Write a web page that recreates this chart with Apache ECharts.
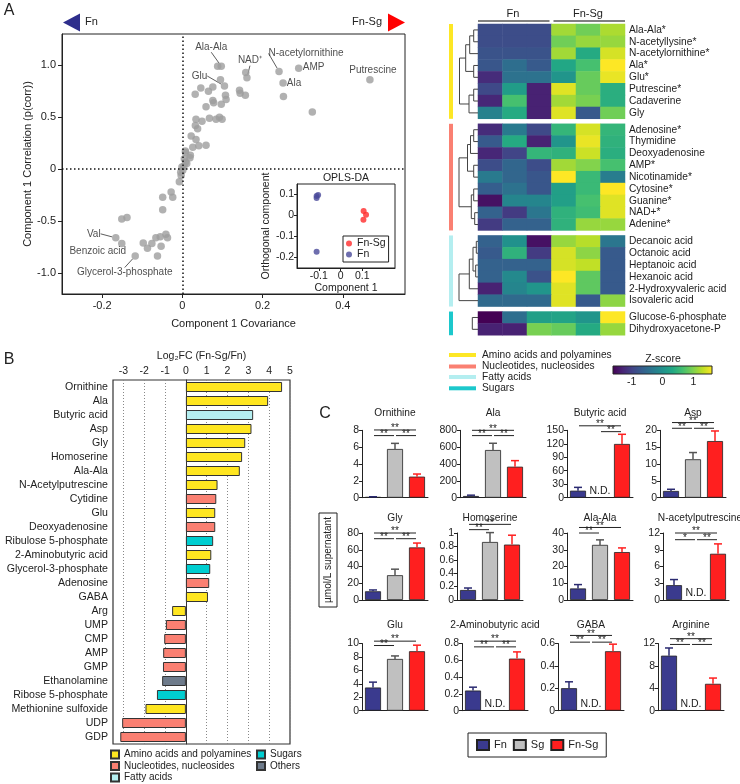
<!DOCTYPE html>
<html><head><meta charset="utf-8">
<script src="https://cdn.jsdelivr.net/npm/echarts@6/dist/echarts.min.js"></script>
<style>html,body{margin:0;padding:0;background:#fff}#c{width:740px;height:784px}</style>
</head><body><div id="c"></div>
<script>
// ================= DATA =================
// Panel A - S-plot points [covariance, correlation]
const scatterPoints = [
 [0.088,0.99],[0.095,0.86],[0.158,0.93],[0.252,0.70],[0.324,0.55],[0.032,0.72],[0.046,0.78],[0.065,0.75],
 [0.076,0.79],[0.076,0.66],[0.078,0.64],[0.097,0.625],[0.1075,0.71],[0.109,0.67],[0.059,0.60],[0.1425,0.76],
 [0.144,0.73],[0.157,0.71],[0.034,0.48],[0.049,0.46],[0.0675,0.49],[0.084,0.48],[0.0925,0.50],[0.099,0.48],
 [0.0325,0.42],[0.038,0.39],[0.022,0.32],[0.034,0.285],[0.059,0.23],[0.041,0.225],[0.026,0.21],[0.02,0.135],
 [0.0075,0.175],[0.005,0.10],[0.011,0.055],[-0.001,0.02],[0.001,-0.01],[-0.003,-0.06],[-0.0075,-0.12],
 [0.004,0.03],[0.008,0.07],[-0.004,-0.03],[0.008,0.16],[0.019,0.11],
 [-0.028,-0.22],[-0.024,-0.27],[-0.049,-0.27],[-0.049,-0.39],[-0.151,-0.48],[-0.138,-0.465],[-0.0975,-0.71],
 [-0.087,-0.76],[-0.076,-0.715],[-0.066,-0.66],[-0.053,-0.74],[-0.055,-0.65],[-0.041,-0.625],[-0.037,-0.66],[-0.062,-0.835]
];
const labeledNames = ['Ala-Ala','Glu','NAD⁺','N-acetylornithine','AMP','Ala','Putrescine','Val','Benzoic acid','Glycerol-3-phosphate'];
const labeledX = [0.097,0.105,0.161,0.241,0.29,0.251,0.4675,-0.166,-0.151,-0.1175];
const labeledY = [0.99,0.80,0.88,0.94,0.97,0.83,0.86,-0.66,-0.715,-0.835];
const scatterXTicks = [-0.2,0,0.2,0.4];
const scatterYTicks = [-1,-0.5,0,0.5,1];
// inset OPLS-DA scores
const insetFnSg = [[0.106,0.022],[0.117,0.003],[0.105,-0.02]];
const insetFn = [[-0.11,0.093],[-0.103,0.098],[-0.11,0.083],[-0.11,-0.173]];
const insetXTicks = [-0.1,0,0.1];
const insetYTicks = [-0.2,-0.1,0,0.1];

// Panel A - heatmap (z-scores; columns Fn x3, Fn-Sg x3)
const heatCols = ['Fn1','Fn2','Fn3','FnSg1','FnSg2','FnSg3'];
const heatRowsAmino = ['Ala-Ala*','N-acetyllysine*','N-acetylornithine*','Ala*','Glu*','Putrescine*','Cadaverine','Gly'];
const heatValsAmino = [
 [-0.85,-0.85,-0.85,1.15,0.9,1.2],
 [-0.85,-0.85,-0.85,0.9,1.1,1.1],
 [-0.78,-0.78,-0.78,1.15,0.35,1.4],
 [-0.75,-0.45,-0.7,0.3,0.65,1.6],
 [-1.2,-0.4,-0.4,0.05,0.85,1.5],
 [-0.9,0.15,-1.3,1.45,0.85,0.4],
 [-1.25,0.65,-1.3,1.15,0.95,0.4],
 [-0.2,0.35,-1.3,1.45,-0.7,0.9]
];
const heatRowsNuc = ['Adenosine*','Thymidine','Deoxyadenosine','AMP*','Nicotinamide*','Cytosine*','Guanine*','NAD+*','Adenine*'];
const heatValsNuc = [
 [-1.2,-0.3,-0.9,0.5,1.4,0.5],
 [-0.7,0.35,-1.3,0.05,1.5,0.45],
 [-1.25,-0.95,0.5,0.45,1.35,0.4],
 [-0.85,-0.55,-0.85,1.15,1.0,0.65],
 [-0.3,-0.55,-0.75,1.6,0.55,-0.25],
 [-0.65,-0.4,-0.75,0.2,0.55,1.6],
 [-1.45,-0.15,-0.15,0.2,0.65,1.45],
 [-0.6,-1.05,-0.35,0.45,0.6,1.45],
 [-1.05,-0.6,-0.6,0.45,1.1,1.1]
];
const heatRowsFat = ['Decanoic acid','Octanoic acid','Heptanoic acid','Hexanoic acid','2-Hydroxyvaleric acid','Isovaleric acid'];
const heatValsFat = [
 [-0.6,0.0,-1.45,1.1,1.25,-0.35],
 [-0.7,0.45,-1.05,1.4,1.05,-0.7],
 [-0.6,-0.6,-0.6,1.4,1.3,-0.7],
 [-0.6,-0.1,-0.8,1.6,0.8,-0.7],
 [-1.3,-0.15,0.05,1.45,0.8,-0.7],
 [-0.5,-0.5,-0.5,1.45,-0.7,1.05]
];
const heatRowsSug = ['Glucose-6-phosphate','Dihydroxyacetone-P'];
const heatValsSug = [
 [-1.6,-0.45,0.2,0.25,0.05,1.6],
 [-1.3,-1.3,0.95,0.85,0.35,1.1]
];
// dendrogram merges [nodeA, nodeB, height]
const dendroAmino = [[0,1,4.3],[8,2,8.3],[3,4,4.3],[9,10,12.3],[5,6,4.3],[12,7,9],[11,13,18.5]];
const dendroNuc = [[0,1,4.3],[9,2,7.5],[3,4,4.3],[10,11,10.5],[5,6,4.3],[7,8,3.3],[13,14,6.7],[12,15,19]];
const dendroFat = [[0,1,1.7],[2,3,2.3],[6,7,5],[8,4,8.7],[9,5,19]];
const dendroSug = [[0,1,5.7]];
const zTicks = [-1,0,1];

// Panel B
const bCategories = ['Ornithine','Ala','Butyric acid','Asp','Gly','Homoserine','Ala-Ala','N-Acetylputrescine','Cytidine','Glu',
 'Deoxyadenosine','Ribulose 5-phosphate','2-Aminobutyric acid','Glycerol-3-phosphate','Adenosine','GABA','Arg','UMP','CMP','AMP',
 'GMP','Ethanolamine','Ribose 5-phosphate','Methionine sulfoxide','UDP','GDP'];
const bValues = [4.62,3.95,3.23,3.15,2.85,2.70,2.59,1.52,1.46,1.41,1.41,1.31,1.22,1.17,1.12,1.06,
 -0.66,-0.96,-1.04,-1.09,-1.10,-1.14,-1.39,-1.94,-3.06,-3.15];
const bClasses = ['A','A','F','A','A','A','A','A','N','A','N','S','A','S','N','A','A','N','N','N','N','O','S','A','N','N'];
const bClassNames = {A:'Amino acids and polyamines', N:'Nucleotides, nucleosides', F:'Fatty acids', S:'Sugars', O:'Others'};
const bTicks = [-3,-2,-1,0,1,2,3,4,5];

// Panel C (µmol/L): [Fn, Sg, Fn-Sg]; null = N.D.
const cTitles = ['Ornithine','Ala','Butyric acid','Asp','Gly','Homoserine','Ala-Ala','N-acetylputrescine','Glu','2-Aminobutyric acid','GABA','Arginine'];
const cMeans = [[0.08,5.78,2.5],[20,566,368],[15.6,null,119.6],[2.0,11.4,16.8],[10.4,29.6,62.8],[0.149,0.866,0.827],
 [6.9,32.9,28.6],[2.66,null,8.28],[3.45,7.7,8.85],[0.24,null,0.62],[0.201,null,0.531],[9.83,null,4.8]];
const cErrs = [[0.03,0.67,0.31],[10,80,72],[7.4,null,21.5],[0.5,2.0,3.0],[1.6,7.2,5.2],[0.03,0.14,0.14],
 [2.3,3.0,2.5],[1.0,null,1.77],[0.8,0.45,0.9],[0.04,null,0.08],[0.057,null,0.063],[1.37,null,1.03]];
const cMax = [8,800,150,20,80,1,40,12,10,0.8,0.6,12];
const cInterval = [2,200,30,5,20,0.2,10,3,2,0.2,0.2,4];
// significance brackets [fromGroup, y, toGroup, stars]
const cSig = [
 [[0,8.04,2,2],[0,7.37,1,2],[1,7.37,2,2]],
 [[0,800,2,2],[0,737,1,2],[1,737,2,2]],
 [[0,160,2,2],[1,147,2,2]],
 [[0,22.3,2,2],[0,20.6,1,2],[1,20.6,2,2]],
 [[0,80,2,2],[0,73.2,1,2],[1,73.2,2,2]],
 [[0,1.129,2,2],[0,1.05,1,2]],
 [[0,43.3,2,2],[0,40,1,2]],
 [[0,12,2,2],[0,10.8,1,1],[1,10.8,2,2]],
 [[0,10.35,2,2],[0,9.7,1,2]],
 [[0,0.828,2,2],[0,0.76,1,2],[1,0.76,2,2]],
 [[0,0.672,2,2],[0,0.612,1,2],[1,0.612,2,2]],
 [[0,12.86,2,2],[0,11.83,1,2],[1,11.83,2,2]]
];
const cGroups = ['Fn','Sg','Fn-Sg'];

// ================= STYLE / LAYOUT =================
const FONT = "'Liberation Sans', Arial, Helvetica, sans-serif";
const INK = '#222';
const viridis = ['#440154','#482475','#414487','#355f8d','#2a788e','#21918c','#22a884','#44bf70','#7ad151','#bddf26','#fde725'];
const classColors = {A:'#ffe620', N:'#fa8072', F:'#b4eef0', S:'#00ced1', O:'#6e7b8b'};
const groupBarColors = ['#fde725','#fa8072','#b4eef0','#1cc8cc'];
const cBarColors = ['#3a3a8e','#c0c0c0','#ff1f1f'];
const cErrColors = ['#2a2a70','#555555','#ff1f1f'];
const labelPlacement = {'Ala-Ala':[-10,-19,true],'Glu':[-25,-10,true],'NAD⁺':[3,-17,true],'N-acetylornithine':[27,-18,true],
 'AMP':[15,-1,false],'Ala':[11,0,false],'Putrescine':[3,-10,false],'Val':[-22,-4,true],'Benzoic acid':[-24,8,false],'Glycerol-3-phosphate':[-10.5,16.5,true]};

const grids=[], xAxes=[], yAxes=[], series=[], graphics=[], legends=[];
function addGrid(g){grids.push(g);return grids.length-1;}
function addX(a){xAxes.push(a);return xAxes.length-1;}
function addY(a){yAxes.push(a);return yAxes.length-1;}

// ---------- Panel A: S-plot ----------
const gA = addGrid({left:62, top:34, width:343, height:260, show:true, borderColor:INK, borderWidth:1, backgroundColor:'transparent'});
const xA = addX({gridIndex:gA, type:'value', min:-0.3, max:0.555,
  axisLine:{onZero:false, lineStyle:{color:INK}}, axisTick:{length:4, customValues:scatterXTicks, lineStyle:{color:INK}},
  axisLabel:{customValues:scatterXTicks, formatter:v=>v===0?'0':v.toFixed(1), fontSize:11, color:INK, margin:6},
  splitLine:{show:false}, name:'Component 1 Covariance', nameLocation:'middle', nameGap:24, nameTextStyle:{fontSize:11, color:INK}});
const yA = addY({gridIndex:gA, type:'value', min:-1.2, max:1.3,
  axisLine:{onZero:false, lineStyle:{color:INK}}, axisTick:{length:4, customValues:scatterYTicks, lineStyle:{color:INK}},
  axisLabel:{customValues:scatterYTicks, formatter:v=>v===0?'0':v.toFixed(1), fontSize:11, color:INK, margin:6},
  splitLine:{show:false}, name:'Component 1 Correlation (p(corr))', nameLocation:'middle', nameGap:26, nameTextStyle:{fontSize:11, color:INK}});
series.push({type:'scatter', xAxisIndex:xA, yAxisIndex:yA, symbolSize:7.5, itemStyle:{color:'#9e9e9e'}, silent:true,
  data:scatterPoints,
  markLine:{silent:true, symbol:'none', label:{show:false}, lineStyle:{color:'#111', type:[1.5,2.5], width:1.5},
    data:[{xAxis:0},{yAxis:0}]}});
series.push({type:'scatter', xAxisIndex:xA, yAxisIndex:yA, symbolSize:7.5, itemStyle:{color:'#9e9e9e'}, silent:true,
  data: labeledNames.map((n,i)=>({name:n, value:[labeledX[i], labeledY[i]], labelLine:{show:labelPlacement[n][2]}})),
  label:{show:true, position:'inside', formatter:'{b}', fontSize:10, color:INK, fontFamily:FONT},
  labelLine:{show:true, lineStyle:{color:'#333', width:0.8}},
  labelLayout:p=>{const o=labelPlacement[labeledNames[p.dataIndex]];return {dx:o[0], dy:o[1]};}});

// inset
const gI = addGrid({left:297, top:184, width:98, height:84, show:true, borderColor:INK, borderWidth:1, backgroundColor:'#fff'});
const xI = addX({gridIndex:gI, type:'value', min:-0.2, max:0.25,
  axisLine:{onZero:false, lineStyle:{color:INK}}, axisTick:{length:3, customValues:insetXTicks, lineStyle:{color:INK}},
  axisLabel:{customValues:insetXTicks, formatter:v=>v===0?'0':v.toFixed(1), fontSize:10.5, color:INK, margin:3},
  splitLine:{show:false}, name:'Component 1', nameLocation:'middle', nameGap:10, nameTextStyle:{fontSize:10.5, color:INK}});
const yI = addY({gridIndex:gI, type:'value', min:-0.25, max:0.15,
  axisLine:{onZero:false, lineStyle:{color:INK}}, axisTick:{length:3, customValues:insetYTicks, lineStyle:{color:INK}},
  axisLabel:{customValues:insetYTicks, formatter:v=>v===0?'0':v.toFixed(1), fontSize:10.5, color:INK, margin:3},
  splitLine:{show:false}, name:'Orthogonal component', nameLocation:'middle', nameGap:19, nameTextStyle:{fontSize:10.5, color:INK}});
series.push({type:'scatter', name:'OPLS Fn-Sg', xAxisIndex:xI, yAxisIndex:yI, symbolSize:6, itemStyle:{color:'#ff2a2a'}, data:insetFnSg, silent:true});
series.push({type:'scatter', name:'OPLS Fn', xAxisIndex:xI, yAxisIndex:yI, symbolSize:6, itemStyle:{color:'#4a4a9a'}, data:insetFn, silent:true});
legends.push({left:343, top:236, orient:'vertical', data:['OPLS Fn-Sg','OPLS Fn'], formatter:n=>n.replace('OPLS ',''),
  icon:'circle', itemWidth:6, itemHeight:6, itemGap:0, padding:[2,3], borderColor:INK, borderWidth:1, backgroundColor:'#fff',
  selectedMode:false, textStyle:{fontSize:10.5, lineHeight:11, color:INK, fontFamily:FONT}});

// ---------- Panel A: heatmap ----------
function dendroLines(n, merges){
  const pos=[]; for(let i=0;i<n;i++) pos.push([0,i]);
  const out=[];
  merges.forEach(([a,b,h])=>{const pa=pos[a], pb=pos[b];
    out.push({coords:[[pa[0],pa[1]],[h,pa[1]],[h,pb[1]],[pb[0],pb[1]]]});
    pos.push([h,(pa[1]+pb[1])/2]);});
  return out;
}
const heatGroups = [
  {rows:heatRowsAmino, vals:heatValsAmino, dendro:dendroAmino},
  {rows:heatRowsNuc, vals:heatValsNuc, dendro:dendroNuc},
  {rows:heatRowsFat, vals:heatValsFat, dendro:dendroFat},
  {rows:heatRowsSug, vals:heatValsSug, dendro:dendroSug}
];
const HM = {left:478, width:147, rowH:11.85, gap:5, top:24, dLeft:459, dWidth:19, barX:449, barW:4};
const heatSeriesIdx = [];
let yCur = HM.top;
heatGroups.forEach((g,gi)=>{
  const h = g.rows.length*HM.rowH;
  const gi1 = addGrid({left:HM.left, top:yCur, width:HM.width, height:h});
  const hx = addX({gridIndex:gi1, type:'category', data:heatCols, show:false});
  const hy = addY({gridIndex:gi1, type:'category', data:g.rows, inverse:true, position:'right',
    axisLine:{show:false}, axisTick:{show:false}, axisLabel:{interval:0, fontSize:10.2, margin:4, color:INK}});
  const data=[]; g.vals.forEach((row,r)=>row.forEach((v,c)=>data.push([c,r,v])));
  heatSeriesIdx.push(series.length);
  series.push({type:'heatmap', xAxisIndex:hx, yAxisIndex:hy, data:data, silent:true, itemStyle:{borderWidth:0}});
  const gd = addGrid({left:HM.dLeft, top:yCur, width:HM.dWidth, height:h});
  const dx = addX({gridIndex:gd, type:'value', min:0, max:19, inverse:true, show:false});
  const dy = addY({gridIndex:gd, type:'value', min:-0.5, max:g.rows.length-0.5, inverse:true, show:false});
  series.push({type:'lines', coordinateSystem:'cartesian2d', polyline:true, xAxisIndex:dx, yAxisIndex:dy, silent:true,
    lineStyle:{color:'#444', width:1, opacity:1}, data:dendroLines(g.rows.length, g.dendro)});
  graphics.push({type:'rect', shape:{x:HM.barX, y:yCur, width:HM.barW, height:h}, style:{fill:groupBarColors[gi]}});
  yCur += h + HM.gap;
});
// column headers
graphics.push({type:'text', x:513, y:14, style:{text:'Fn', align:'center', verticalAlign:'middle', font:'11px '+FONT, fill:INK}});
graphics.push({type:'text', x:588, y:14, style:{text:'Fn-Sg', align:'center', verticalAlign:'middle', font:'11px '+FONT, fill:INK}});
graphics.push({type:'line', shape:{x1:478, y1:21, x2:549.5, y2:21}, style:{stroke:'#808080', lineWidth:2}});
graphics.push({type:'line', shape:{x1:553.5, y1:21, x2:625, y2:21}, style:{stroke:'#808080', lineWidth:2}});
// class legend
const hmLegend = [['Amino acids and polyamines',355],['Nucleotides, nucleosides',366.5],['Fatty acids',377],['Sugars',388.3]];
hmLegend.forEach(([t,y],i)=>{
  graphics.push({type:'rect', shape:{x:449, y:y-2, width:27, height:4}, style:{fill:groupBarColors[i]}});
  graphics.push({type:'text', x:482, y:y, style:{text:t, align:'left', verticalAlign:'middle', font:'10.2px '+FONT, fill:INK}});
});
// colour bar
graphics.push({type:'text', x:663, y:359, style:{text:'Z-score', align:'center', verticalAlign:'middle', font:'10.5px '+FONT, fill:INK}});
graphics.push({type:'rect', shape:{x:613, y:366, width:99, height:8},
  style:{stroke:INK, lineWidth:1, fill:{type:'linear', x:0, y:0, x2:1, y2:0, colorStops:viridis.map((c,i)=>({offset:i/(viridis.length-1), color:c}))}}});
const gCB = addGrid({left:613, top:366, width:99, height:8});
addX({gridIndex:gCB, type:'value', min:-1.6, max:1.6, axisLine:{show:false}, axisTick:{show:false}, splitLine:{show:false},
  axisLabel:{customValues:zTicks, fontSize:10.5, color:INK, margin:3}});
addY({gridIndex:gCB, type:'value', show:false, min:0, max:1});

// ---------- Panel B ----------
const gB = addGrid({left:113, top:380, width:177, height:364, show:true, borderColor:'#333', borderWidth:1.2, backgroundColor:'transparent'});
const xB = addX({gridIndex:gB, type:'value', position:'top', min:-3.5, max:5,
  axisLine:{onZero:false, lineStyle:{color:'#333'}}, axisTick:{length:3, customValues:bTicks, lineStyle:{color:INK}},
  axisLabel:{customValues:bTicks, fontSize:10.5, color:INK, margin:3},
  splitLine:{show:true, lineStyle:{type:[1,2], color:'#888'}},
  name:'Log₂FC (Fn-Sg/Fn)', nameLocation:'middle', nameGap:18, nameTextStyle:{fontSize:10.5, color:INK}});
const yB = addY({gridIndex:gB, type:'category', data:bCategories, inverse:true,
  axisLine:{lineStyle:{color:'#333'}}, axisTick:{length:3, alignWithLabel:true, interval:0, lineStyle:{color:INK}},
  axisLabel:{interval:0, fontSize:10.6, color:INK, margin:5}});
['A','N','F','S','O'].forEach(k=>{
  series.push({type:'bar', name:bClassNames[k], xAxisIndex:xB, yAxisIndex:yB, stack:'B', barWidth:10, silent:true,
    itemStyle:{color:classColors[k], borderColor:'#333', borderWidth:1},
    data:bValues.map((v,i)=>bClasses[i]===k?v:'-')});
});
legends.push({left:110, top:749, orient:'vertical', data:[bClassNames.A,bClassNames.N,bClassNames.F], icon:'rect',
  itemWidth:8, itemHeight:8, itemGap:0.5, padding:0, selectedMode:false, textStyle:{fontSize:10, lineHeight:11, color:INK, fontFamily:FONT}});
legends.push({left:256, top:749, orient:'vertical', data:[bClassNames.S,bClassNames.O], icon:'rect',
  itemWidth:8, itemHeight:8, itemGap:0.5, padding:0, selectedMode:false, textStyle:{fontSize:10, lineHeight:11, color:INK, fontFamily:FONT}});

// ---------- Panel C ----------
const cLay = {tops:[430.3,533,643.5], bottoms:[497.7,600,710.7],
  lefts:[[362,460,567,660],[362,457,567,663],[362,462,558,658]], width:66, titleY:[413.3,518.3,625]};
cTitles.forEach((t,k)=>{
  const r=Math.floor(k/4), c=k%4, left=cLay.lefts[r][c];
  const g = addGrid({left:left, top:cLay.tops[r], width:cLay.width, height:cLay.bottoms[r]-cLay.tops[r]});
  const xi = addX({gridIndex:g, type:'category', data:cGroups, axisLabel:{show:false}, axisTick:{show:false},
    axisLine:{lineStyle:{color:INK}}});
  const yi = addY({gridIndex:g, type:'value', min:0, max:cMax[k], interval:cInterval[k],
    axisLine:{show:true, lineStyle:{color:INK}}, axisTick:{show:true, length:3, lineStyle:{color:INK}},
    axisLabel:{fontSize:10.5, color:INK, margin:3}, splitLine:{show:false}});
  cGroups.forEach((gn,j)=>{
    series.push({type:'bar', name:gn, xAxisIndex:xi, yAxisIndex:yi, stack:'C'+k, barWidth:16, silent:true,
      itemStyle:{color:cBarColors[j], borderColor:'#222', borderWidth:0.8},
      data:cGroups.map((_,m)=> (m===j && cMeans[k][m]!=null) ? cMeans[k][m] : '-')});
  });
  // error bars + N.D.
  const errData = cMeans[k].map((m,j)=> m==null ? [j,0,0,1] : [j,m,cErrs[k][j],0]);
  series.push({type:'custom', xAxisIndex:xi, yAxisIndex:yi, silent:true, z:5, clip:false,
    dimensions:['g','m','e','nd'], encode:{x:0,y:1}, data:errData,
    renderItem:(p,api)=>{
      const j=api.value(0), m=api.value(1), e=api.value(2), nd=api.value(3);
      if(nd){const pt=api.coord([j,0]);
        return {type:'text', x:pt[0], y:pt[1]-1, style:{text:'N.D.', align:'center', verticalAlign:'bottom', font:'10.5px '+FONT, fill:INK}};}
      const a=api.coord([j,m]), b=api.coord([j,m+e]);
      return {type:'group', children:[
        {type:'line', shape:{x1:a[0],y1:a[1],x2:b[0],y2:b[1]}, style:{stroke:cErrColors[j], lineWidth:1.5}},
        {type:'line', shape:{x1:b[0]-4,y1:b[1],x2:b[0]+4,y2:b[1]}, style:{stroke:cErrColors[j], lineWidth:1.5}}]};
    }});
  // significance
  series.push({type:'custom', xAxisIndex:xi, yAxisIndex:yi, silent:true, z:6, clip:false,
    dimensions:['g1','y','g2','n'], encode:{x:0,y:1}, data:cSig[k],
    renderItem:(p,api)=>{
      const a=api.coord([api.value(0),api.value(1)]), b=api.coord([api.value(2),api.value(1)]);
      const x1=a[0]+1, x2=b[0]-1, n=api.value(3);
      return {type:'group', children:[
        {type:'line', shape:{x1:x1,y1:a[1],x2:x2,y2:a[1]}, style:{stroke:INK, lineWidth:1}},
        {type:'text', x:(x1+x2)/2, y:a[1]-1.5, style:{text:n===1?'*':'**', align:'center', verticalAlign:'middle', font:'10px '+FONT, fill:INK}}]};
    }});
  graphics.push({type:'text', x:left+cLay.width/2+(k===7?4:0), y:cLay.titleY[r], style:{text:t, align:'center', verticalAlign:'middle', font:'10.2px '+FONT, fill:INK}});
});
legends.push({left:468, top:733, orient:'horizontal', data:cGroups, icon:'rect', itemWidth:12, itemHeight:10, itemGap:6,
  padding:[6,8], borderColor:INK, borderWidth:1, selectedMode:false, textStyle:{fontSize:11, color:INK, fontFamily:FONT}});
graphics.push({type:'rect', shape:{x:319, y:513, width:18, height:94}, style:{fill:'none', stroke:INK, lineWidth:1}});
graphics.push({type:'text', x:328, y:560, rotation:Math.PI/2, style:{text:'µmol/L supernatant', align:'center', verticalAlign:'middle', font:'10px '+FONT, fill:INK}});

// ---------- Decorations ----------
graphics.push({type:'text', x:9, y:11, style:{text:'A', align:'center', verticalAlign:'middle', font:'16px '+FONT, fill:INK}});
graphics.push({type:'text', x:9, y:360, style:{text:'B', align:'center', verticalAlign:'middle', font:'16px '+FONT, fill:INK}});
graphics.push({type:'text', x:325, y:414, style:{text:'C', align:'center', verticalAlign:'middle', font:'16px '+FONT, fill:INK}});
graphics.push({type:'polygon', shape:{points:[[63,22.5],[80,13.5],[80,31.5]]}, style:{fill:'#2e2e8c'}});
graphics.push({type:'text', x:85, y:22, style:{text:'Fn', align:'left', verticalAlign:'middle', font:'11px '+FONT, fill:INK}});
graphics.push({type:'polygon', shape:{points:[[405,22.5],[388,13.5],[388,31.5]]}, style:{fill:'#ff0000'}});
graphics.push({type:'text', x:382, y:22, style:{text:'Fn-Sg', align:'right', verticalAlign:'middle', font:'11px '+FONT, fill:INK}});
graphics.push({type:'text', x:346, y:178, style:{text:'OPLS-DA', align:'center', verticalAlign:'middle', font:'10.5px '+FONT, fill:INK}});

const chart = echarts.init(document.getElementById('c'), null, {renderer:'canvas'});
chart.setOption({
  animation:false,
  backgroundColor:'#fff',
  textStyle:{fontFamily:FONT, color:INK},
  grid:grids, xAxis:xAxes, yAxis:yAxes, series:series, legend:legends,
  visualMap:{type:'continuous', show:false, min:-1.6, max:1.6, dimension:2, seriesIndex:heatSeriesIdx, inRange:{color:viridis}},
  graphic:{elements:graphics}
});
</script></body></html>
